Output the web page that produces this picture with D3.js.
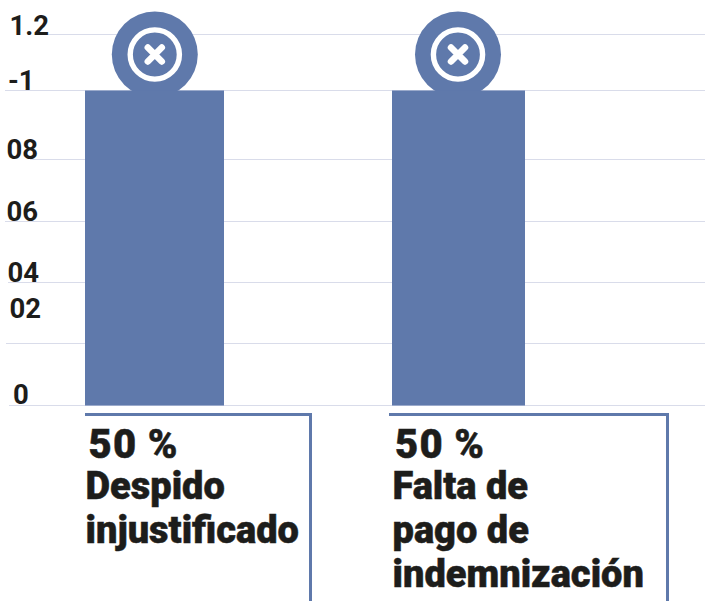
<!DOCTYPE html>
<html><head><meta charset="utf-8">
<script src="https://cdn.jsdelivr.net/npm/d3@7"></script>
<style>html,body{margin:0;padding:0;background:#fff}svg{display:block}text{font-family:Roboto,sans-serif;fill:#1d1d1b}</style>
</head><body><div id="c"></div>
<script>
const categories = ["Despido injustificado", "Falta de pago de indemnización"];
const values = [1, 1];
const percentLabels = ["50 %", "50 %"];
const labelLines = [["Despido", "injustificado"], ["Falta de", "pago de", "indemnización"]];
const gridValues = [0, 0.2, 0.4, 0.6, 0.8, 1, 1.2];
const tickLabels = ["0", "02", "04", "06", "08", "-1", "1.2"];

const W = 705, H = 601, blue = "#5f79ab", gridCol = "#d9dcea";
const svg = d3.select("#c").append("svg").attr("width", W).attr("height", H);
const y = d3.scaleLinear().domain(gridValues).range([405.5, 343.5, 282.5, 221.5, 159.5, 90.5, 34.5]);
const xL = d3.scaleOrdinal(categories, [85, 392]);
const xR = d3.scaleOrdinal(categories, [224, 525]);
const gridStart = d3.scaleOrdinal(gridValues, [9, 6, 8, 5, 30, 5, 48]);
const tickX = d3.scaleOrdinal(gridValues, [13, 9.5, 7.5, 6.5, 6.5, 8, 9.5]);
const tickY = d3.scaleOrdinal(gridValues, [403.5, 317.5, 282, 221, 158.5, 90, 34.5]);

svg.selectAll(".g").data(gridValues).join("line").attr("class", "g")
  .attr("x1", d => gridStart(d)).attr("x2", W)
  .attr("y1", d => y(d)).attr("y2", d => y(d))
  .attr("stroke", gridCol).attr("stroke-width", 1);

svg.selectAll(".t").data(gridValues).join("text").attr("class", "t")
  .attr("x", d => tickX(d)).attr("y", d => tickY(d))
  .attr("font-size", 27.5).attr("font-weight", 700)
  .text((d, i) => tickLabels[i]);

const data = categories.map((c, i) => ({c, v: values[i], pct: percentLabels[i], lines: labelLines[i]}));
const cxIcon = d3.scaleOrdinal(categories, [154.8, 458]);

const icon = svg.selectAll(".icon").data(data).join("g").attr("class", "icon")
  .attr("transform", d => `translate(${cxIcon(d.c)},${y(d.v) - 36})`);
icon.append("circle").attr("r", 43).attr("fill", blue);
icon.append("circle").attr("r", 24.6).attr("fill", "none").attr("stroke", "#fff").attr("stroke-width", 5.4);
icon.append("path").attr("d", "M-7,-7L7,7M7,-7L-7,7").attr("stroke", "#fff").attr("stroke-width", 6.5).attr("stroke-linecap", "round");

svg.selectAll(".bar").data(data).join("rect").attr("class", "bar")
  .attr("x", d => xL(d.c)).attr("width", d => xR(d.c) - xL(d.c))
  .attr("y", d => y(d.v)).attr("height", d => y(0) - y(d.v)).attr("fill", blue);

const boxL = d3.scaleOrdinal(categories, [85, 389]);
const boxR = d3.scaleOrdinal(categories, [310.5, 667.5]);
svg.selectAll(".box").data(data).join("path").attr("class", "box")
  .attr("d", d => `M${boxL(d.c)},414.5H${boxR(d.c)}V${H}`)
  .attr("fill", "none").attr("stroke", blue).attr("stroke-width", 3);

const textX = d3.scaleOrdinal(categories, [85.5, 392.5]);
const pctX = d3.scaleOrdinal(categories, [88.5, 395]);
const lab = svg.selectAll(".lab").data(data).join("g").attr("class", "lab");
lab.append("text").attr("x", d => pctX(d.c)).attr("y", 458)
  .attr("font-size", 40).attr("font-weight", 900).attr("letter-spacing", 1.3).attr("word-spacing", -1)
  .attr("stroke", "#1d1d1b").attr("stroke-width", 0.5).text(d => d.pct);
lab.selectAll(".l").data(d => d.lines.map(t => ({t, c: d.c}))).join("text").attr("class", "l")
  .attr("x", d => textX(d.c)).attr("y", (d, i) => 499 + i * 44)
  .attr("font-size", 38).attr("font-weight", 900)
  .attr("stroke", "#1d1d1b").attr("stroke-width", 0.5).text(d => d.t);
</script></body></html>
